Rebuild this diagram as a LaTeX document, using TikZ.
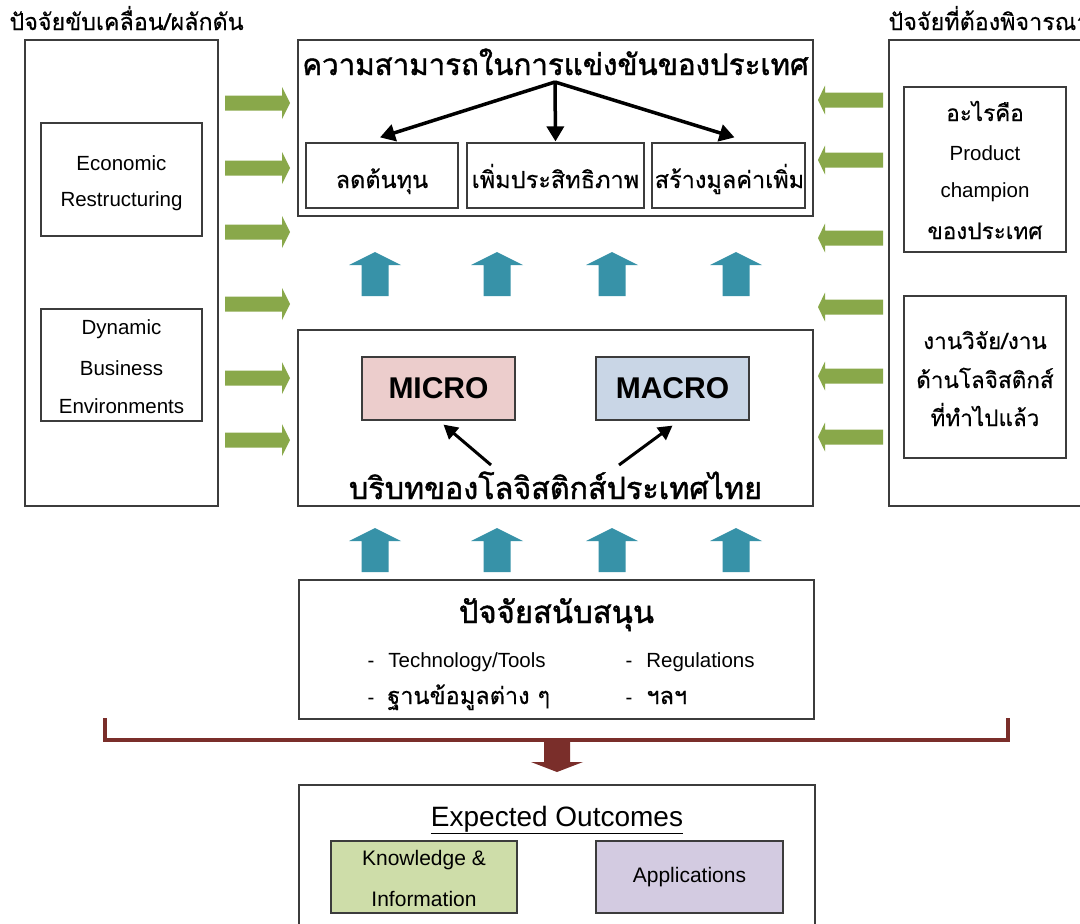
\documentclass[tikz,border=0pt]{standalone}
\usepackage{fontspec}
\setmainfont{Liberation Sans}
\newfontfamily\thai[Script=Thai,FakeBold=0.4]{Loma}
\newfontfamily\thaib[Script=Thai,FakeBold=1.4]{Loma}
\usetikzlibrary{arrows.meta,calc}
\definecolor{agreen}{RGB}{137,168,74}
\definecolor{ateal}{RGB}{55,146,168}
\definecolor{abrown}{RGB}{122,46,42}
\definecolor{fpink}{RGB}{236,205,204}
\definecolor{fblue}{RGB}{201,214,230}
\definecolor{fgreen}{RGB}{206,221,169}
\definecolor{flav}{RGB}{211,203,225}
\definecolor{border}{RGB}{60,60,60}
\newcommand{\fs}[1]{\fontsize{#1}{#1}\selectfont}
\begin{document}
\begin{tikzpicture}[x=1pt,y=-1pt,
  box/.style={draw=border,line width=1.2pt,inner sep=0pt,fill=white},
  thaitext/.style={font=\thai\fs{23.5}},
  thaiside/.style={font=\thai\fs{22.5}},
  latin/.style={font=\fs{20.5}},
  blackarrow/.style={-{Triangle[length=15pt,width=17pt]},line width=3.5pt,black},
  rarrow/.pic={\fill[agreen] (0,-7.5) -- (57,-7.5) -- (57,-16) -- (65,0) -- (57,16) -- (57,7.5) -- (0,7.5) -- cycle;},
  larrow/.pic={\fill[agreen] (0,-7.5) -- (-58,-7.5) -- (-58,-14.5) -- (-65,0) -- (-58,14.5) -- (-58,7.5) -- (0,7.5) -- cycle;},
  uarrow/.pic={\fill[ateal] (0,0) -- (26,13) -- (13.5,13) -- (13.5,44) -- (-13.5,44) -- (-13.5,13) -- (-26,13) -- cycle;}
]
\useasboundingbox (0,0) rectangle (1080,924);
\clip (0,0) rectangle (1080,924);
\fill[white] (0,0) rectangle (1080,924);

% titles
\node[anchor=base west,font=\thai\fs{23.3}] (ltitle) at (6,30) {ปัจจัยขับเคลื่อน/ผลักดัน};
\node[anchor=base west,font=\thai\fs{23.3}] (rtitle) at (885,30) {ปัจจัยที่ต้องพิจารณา};

% left panel
\node[box,minimum width=193pt,minimum height=466pt] (lbox) at (121.5,273) {};
\node[box,minimum width=161pt,minimum height=113pt] (econ) at (121.5,179.5) {};
\node[latin] (econt1) at (121.5,163) {Economic};
\node[latin] (econt2) at (121.5,201) {Restructuring};
\node[box,minimum width=161pt,minimum height=112pt] (dyn) at (121.5,365) {};
\node[latin] (dynt1) at (121.5,329) {Dynamic};
\node[latin] (dynt2) at (121.5,368) {Business};
\node[latin] (dynt3) at (121.5,406) {Environments};

% right panel
\node[box,minimum width=202pt,minimum height=466pt] (rbox) at (990,273) {};
\node[box,minimum width=162pt,minimum height=165pt] (prod) at (985,169.5) {};
\node[thaiside,anchor=base] (prodt1) at (985,121) {อะไรคือ};
\node[latin] (prodt2) at (985,153) {Product};
\node[latin] (prodt3) at (985,192) {champion};
\node[thaiside,anchor=base] (prodt4) at (985,239) {ของประเทศ};
\node[box,minimum width=162pt,minimum height=162pt] (res) at (985,377) {};
\node[thaiside,anchor=base] (rest1) at (985,349) {งานวิจัย/งาน};
\node[thaiside,anchor=base] (rest2) at (985,388) {ด้านโลจิสติกส์};
\node[thaiside,anchor=base] (rest3) at (985,426) {ที่ทำไปแล้ว};

% green arrows
\foreach \y in {103,168,232,304,378,440} \pic at (225,\y) {rarrow};
\foreach \y in {100,160,238,307,376,437} \pic at (883,\y) {larrow};

% top box
\node[box,minimum width=515pt,minimum height=176pt] (top) at (555.5,128) {};
\node[font=\thaib\fs{29.5},anchor=base] (toptitle) at (555.5,75) {ความสามารถในการแข่งขันของประเทศ};
\coordinate (fork) at (555,82);
\node[box,minimum width=152pt,minimum height=65pt] (cost) at (382,175.5) {};
\node[box,minimum width=177pt,minimum height=65pt] (eff) at (555.5,175.5) {};
\node[box,minimum width=153pt,minimum height=65pt] (val) at (728.5,175.5) {};
\node[thaitext,anchor=base] (costt) at (382,188) {ลดต้นทุน};
\node[thaitext,anchor=base] (efft) at (555.5,188) {เพิ่มประสิทธิภาพ};
\node[thaitext,anchor=base] (valt) at (729.5,188) {สร้างมูลค่าเพิ่ม};
\draw[blackarrow] (fork) -- ($(cost.north)+(-2,-5)$);
\draw[blackarrow] (fork) -- ($(eff.north)+(0,-1)$);
\draw[blackarrow] (fork) -- ($(val.north)+(6,-5)$);

% teal arrows
\foreach \x in {375,497,612,736} {
  \pic at (\x,252) {uarrow};
  \pic at (\x,528) {uarrow};
}

% middle box
\node[box,minimum width=515pt,minimum height=176pt] (mid) at (555.5,418) {};
\node[box,fill=fpink,minimum width=153pt,minimum height=63pt,font=\bfseries\fs{30}] (micro) at (438.5,388.5) {MICRO};
\node[box,fill=fblue,minimum width=153pt,minimum height=63pt,font=\bfseries\fs{30}] (macro) at (672.5,388.5) {MACRO};
\node[font=\thaib\fs{30.5},anchor=base] (ctx) at (555.5,499) {บริบทของโลจิสติกส์ประเทศไทย};
\coordinate (c1) at (491,465);
\coordinate (c2) at (619,465);
\draw[blackarrow,line width=3pt,-{Triangle[length=14pt,width=15pt]}] (c1) -- ($(micro.south)+(5,4)$);
\draw[blackarrow,line width=3pt,-{Triangle[length=14pt,width=15pt]}] (c2) -- ($(macro.south)+(0,5)$);

% support box
\node[box,minimum width=515pt,minimum height=139pt] (sup) at (556.5,649.5) {};
\node[font=\thaib\fs{31},anchor=base] (suptitle) at (556.5,623) {ปัจจัยสนับสนุน};
\node[latin,anchor=base west] (s1) at (364,667) {-\hspace{14pt}Technology/Tools};
\node[latin,anchor=base west] (s2) at (622,667) {-\hspace{14pt}Regulations};
\node[latin,anchor=base west] (s3) at (364,704) {-\hspace{13pt}{\thai\fs{23.5}ฐานข้อมูลต่าง ๆ}};
\node[latin,anchor=base west] (s4) at (622,704) {-\hspace{14pt}{\thai\fs{23.5}ฯลฯ}};

% bracket and arrow
\coordinate (bl) at (105,718);
\coordinate (br) at (1008,718);
\draw[abrown,line width=4pt] (bl) -- (105,740) -- (1008,740) -- (br);
\fill[abrown] (544,740) -- (570,740) -- (570,762) -- (583,762) -- (557,772) -- (531,762) -- (544,762) -- cycle;

% outcomes
\node[box,minimum width=516pt,minimum height=160pt] (out) at (557,865) {};
\node[font=\fs{28}] (outtitle) at (557,820) {\underline{Expected Outcomes}};
\node[box,fill=fgreen,minimum width=186pt,minimum height=72pt] (know) at (424,877) {};
\node[font=\fs{21}] (knowt1) at (424,860) {Knowledge \&};
\node[font=\fs{21}] (knowt2) at (424,899) {Information};
\node[box,fill=flav,minimum width=187pt,minimum height=72pt,font=\fs{21}] (app) at (689.5,877) {Applications};
\end{tikzpicture}
\end{document}
